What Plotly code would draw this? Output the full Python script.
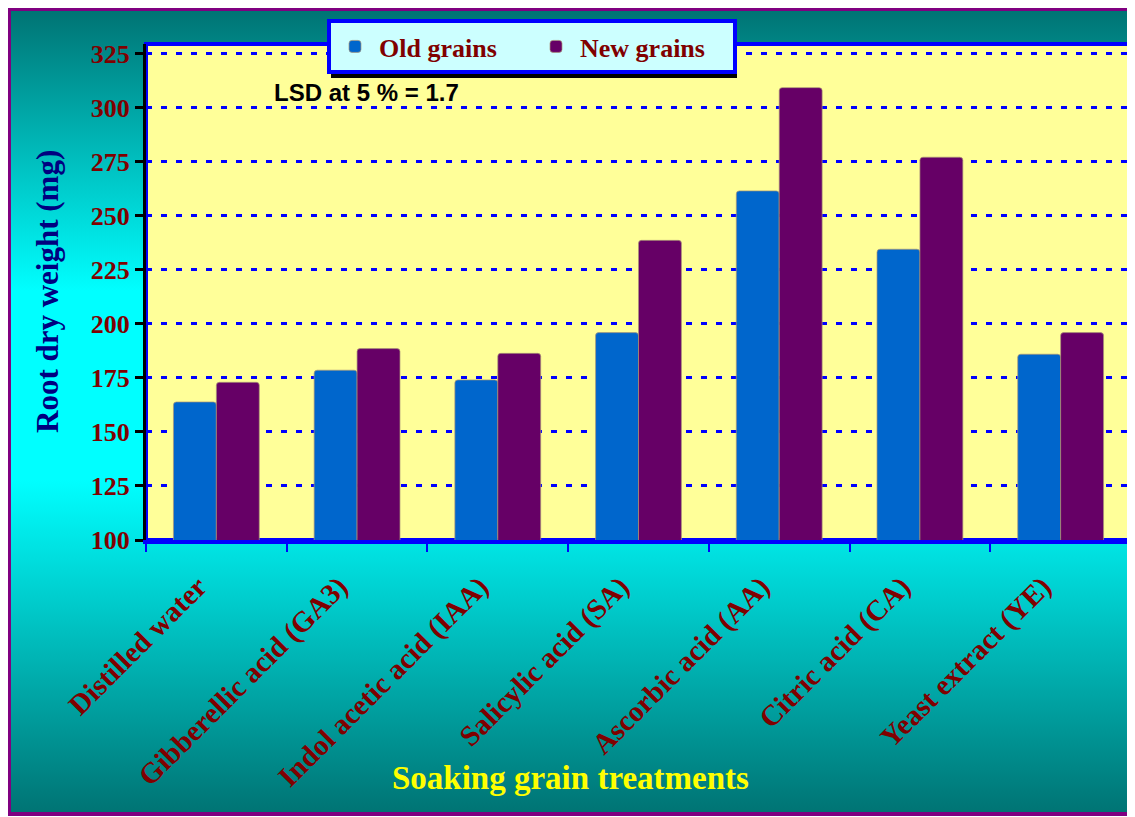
import base64
import plotly.graph_objects as go

categories = ["Distilled water", "Gibberellic acid (GA3)", "Indol acetic acid (IAA)",
              "Salicylic acid (SA)", "Ascorbic acid (AA)", "Citric acid (CA)", "Yeast extract (YE)"]
old_grains = [163.9, 178.6, 174.1, 196.0, 261.6, 234.6, 186.0]
new_grains = [173.0, 188.6, 186.4, 238.7, 309.4, 277.2, 196.0]
y_ticks = [100, 125, 150, 175, 200, 225, 250, 275, 300, 325]

OFF = 8  # page body margin
W, H = 1127, 809
L, R, T, B = 138, 4, 36, 277
PW, PH = W - L - R, H - T - B


def px(x):
    return (x - OFF - L) / PW


def py(y):
    return (H - B - (y - OFF)) / PH


FONT = "Liberation Serif"
DARKRED = "#800000"

svg = ("<svg xmlns='http://www.w3.org/2000/svg' width='100' height='100' preserveAspectRatio='none'>"
       "<defs><linearGradient id='g' x1='0' y1='0' x2='0' y2='1'>"
       "<stop offset='0' stop-color='#007373'/>"
       "<stop offset='0.35' stop-color='#00FFFF'/>"
       "<stop offset='0.585' stop-color='#00FFFF'/>"
       "<stop offset='1' stop-color='#007373'/>"
       "</linearGradient></defs><rect width='100' height='100' fill='url(#g)'/></svg>")
svg_uri = "data:image/svg+xml;base64," + base64.b64encode(svg.encode()).decode()

fig = go.Figure()
fig.add_trace(go.Bar(x=categories, y=old_grains, name="Old grains",
                     marker=dict(color="#0066CC", line=dict(color="rgba(170,150,120,0.7)", width=1),
                                 cornerradius=3)))
fig.add_trace(go.Bar(x=categories, y=new_grains, name="New grains",
                     marker=dict(color="#660066", line=dict(color="rgba(170,150,120,0.7)", width=1),
                                 cornerradius=3)))

fig.update_layout(
    width=W, height=H,
    margin=dict(l=L, r=R, t=T, b=B),
    paper_bgcolor="white",
    plot_bgcolor="#FFFF99",
    barmode="group", bargap=0.39, bargroupgap=0,
    font=dict(family=FONT),
    showlegend=True,
    legend=dict(orientation="h", x=px(327), y=py(19), xanchor="left", yanchor="top",
                bgcolor="#CCFFFF", bordercolor="#0000FF", borderwidth=4,
                font=dict(family=FONT, size=26, color=DARKRED, weight="bold"),
                itemwidth=38, entrywidth=148, entrywidthmode="pixels", traceorder="normal"),
    images=[dict(source=svg_uri, xref="paper", yref="paper", x=px(9), y=py(9),
                 sizex=(1133 - 9) / PW, sizey=(814 - 9) / PH, sizing="stretch",
                 xanchor="left", yanchor="top", layer="below")],
    shapes=[
        dict(type="rect", xref="paper", yref="paper", x0=px(9), x1=px(1133), y0=py(814), y1=py(9),
             line=dict(color="#800080", width=4), fillcolor="rgba(0,0,0,0)", layer="below"),
        dict(type="rect", xref="paper", yref="paper", x0=0, x1=1, y0=0, y1=1,
             line=dict(color="#0000FF", width=4), fillcolor="#FFFF99", layer="below"),
        dict(type="rect", xref="paper", yref="paper", x0=px(331), x1=px(737), y0=py(78), y1=py(23),
             line=dict(width=0), fillcolor="black", layer="above"),
    ],
    annotations=[
        dict(text="LSD at 5 % = 1.7", xref="paper", yref="paper", x=px(272), y=py(92),
             xanchor="left", yanchor="middle", showarrow=False,
             font=dict(family="Liberation Sans", size=24, color="black", weight="bold")),
        dict(text="Root dry weight (mg)", xref="paper", yref="paper", x=px(47), y=py(292),
             xanchor="center", yanchor="middle", textangle=-90, showarrow=False,
             font=dict(family=FONT, size=31, color="#000080", weight="bold")),
        dict(text="Soaking grain treatments", xref="paper", yref="paper", x=px(570), y=py(778),
             xanchor="center", yanchor="middle", showarrow=False,
             font=dict(family=FONT, size=33, color="#FFFF00", weight="bold")),
    ],
)

fig.update_xaxes(showline=True, linecolor="#0000FF", linewidth=4,
                 ticks="outside", tickson="boundaries", tickcolor="#0000FF", tickwidth=2, ticklen=8,
                 tickangle=-45, ticklabelshift=-18, ticklabelstandoff=14,
                 tickfont=dict(family=FONT, size=29, color=DARKRED, weight="bold"),
                 showgrid=False)
fig.update_yaxes(range=[100, 329.6], tickvals=y_ticks, showline=True, linecolor="black", linewidth=3,
                 ticks="outside", tickcolor="black", tickwidth=3, ticklen=8,
                 tickfont=dict(family=FONT, size=26, color=DARKRED, weight="bold"),
                 showgrid=True, gridcolor="#0000FF", gridwidth=3, griddash="6px,9px",
                 zeroline=False)

fig.write_html("out.html")
